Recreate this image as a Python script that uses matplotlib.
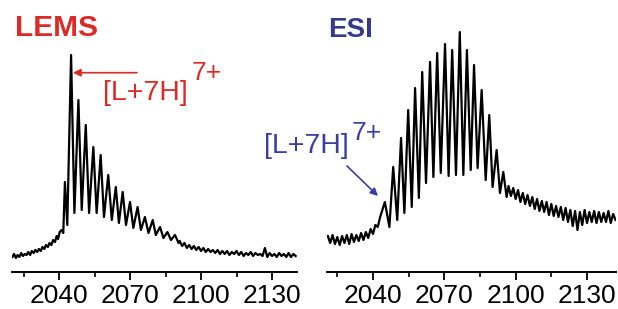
import numpy as np
import matplotlib
matplotlib.use("Agg")
import matplotlib.pyplot as plt

plt.rcParams['font.family'] = ['Liberation Sans', 'DejaVu Sans']

# ---- data (m/z, intensity in arbitrary units) ----
# LEMS: rising baseline, isotope-like peak train, decaying noisy tail
lems_base_mz = [2020.3, 2021.0, 2021.8, 2022.5, 2023.3, 2024.0, 2024.8, 2025.5, 2026.3, 2027.0,
                2027.8, 2028.5, 2029.3, 2030.0, 2030.8, 2031.5, 2032.3, 2033.0, 2033.8, 2034.5,
                2035.3, 2036.0, 2036.8, 2037.5, 2038.3, 2039.0, 2039.6, 2040.3, 2041.1, 2041.8]
lems_base_int = [15, 18, 14, 17, 15, 19, 16, 18, 17, 20,
                 17, 21, 19, 22, 20, 23, 21, 25, 23, 27,
                 25, 29, 27, 32, 30, 36, 33, 40, 42, 39]
lems_peak_mz = [2042.5, 2043.5, 2045.1, 2046.5, 2048.2, 2049.6, 2051.3, 2052.7, 2054.5, 2055.9,
                2057.6, 2059.0, 2060.8, 2062.3, 2064.0, 2065.3, 2066.9, 2068.3, 2070.0, 2071.4,
                2073.2, 2074.6, 2076.3, 2077.8, 2079.6, 2080.9, 2082.7, 2084.1, 2085.8, 2087.3,
                2089.0, 2090.5]
lems_peak_int = [90, 47, 217, 59, 172, 62, 147, 59, 125, 59,
                 117, 55, 97, 52, 85, 49, 80, 47, 70, 44,
                 65, 42, 55, 39, 52, 37, 45, 34, 40, 32,
                 37, 29]
lems_tail_mz = [2091, 2092, 2093, 2094, 2095, 2096, 2097, 2098, 2099, 2100,
                2101, 2102, 2103, 2104, 2105, 2106, 2107, 2108, 2109, 2110,
                2111, 2112, 2113, 2114, 2115, 2116, 2117, 2118, 2119, 2120,
                2121, 2122, 2123, 2124, 2125, 2126, 2127, 2128, 2129, 2130,
                2131, 2132, 2133, 2134, 2135, 2136, 2137, 2138, 2139, 2140]
lems_tail_int = [31, 26, 29, 24, 27, 23, 26, 22, 25, 21,
                 24, 20, 23, 20, 22, 19, 22, 18, 21, 18,
                 21, 17, 20, 18, 21, 17, 20, 16, 19, 17,
                 20, 16, 19, 17, 18, 16, 24, 15, 19, 16,
                 18, 15, 19, 16, 18, 15, 19, 15, 18, 16]

# ESI: broad envelope of peaks
esi_base_mz = [2021, 2022, 2023, 2024, 2025, 2026, 2027, 2028, 2029, 2030,
               2031, 2032, 2033, 2034, 2035, 2036, 2037, 2038, 2039, 2040,
               2041, 2042, 2043]
esi_base_int = [36, 29, 37, 28, 35, 27, 36, 29, 37, 28,
                38, 30, 37, 31, 39, 32, 40, 34, 43, 38,
                47, 45, 55]
esi_peak_mz = [2045.0, 2046.9, 2048.5, 2050.2, 2051.8, 2053.2, 2054.8, 2056.3, 2057.7, 2059.3,
               2060.7, 2062.3, 2064.0, 2065.4, 2067.0, 2068.5, 2070.3, 2071.8, 2073.3, 2074.9,
               2076.5, 2078.0, 2079.5, 2081.1, 2082.5, 2084.0, 2085.7, 2087.4, 2088.9, 2090.3,
               2092.0, 2093.4, 2094.8, 2096.2]
esi_peak_int = [70, 45, 105, 52, 134, 59, 162, 65, 184, 74,
                200, 89, 210, 95, 219, 99, 228, 96, 222, 97,
                240, 97, 222, 102, 207, 104, 182, 92, 157, 85,
                122, 79, 100, 75]
esi_tail_mz = [2097, 2098, 2099, 2100, 2101, 2102, 2103, 2104, 2105, 2106,
               2107, 2108, 2109, 2110, 2111, 2112, 2113, 2114, 2115, 2116,
               2117, 2118, 2119, 2120, 2121, 2122, 2123, 2124, 2125, 2126,
               2127, 2128, 2129, 2130, 2131, 2132, 2133, 2134, 2135, 2136,
               2137, 2138, 2139, 2140, 2141, 2142]
esi_tail_int = [86, 76, 84, 73, 82, 70, 79, 68, 77, 66,
                75, 63, 73, 61, 71, 60, 70, 57, 68, 56,
                66, 55, 65, 52, 64, 50, 62, 46, 61, 42,
                60, 47, 62, 49, 60, 50, 61, 49, 60, 50,
                59, 50, 61, 49, 58, 52]

tick_vals = [2040, 2070, 2100, 2130]
minor_vals = [2025, 2055, 2085, 2115]

RED = "#dc2b27"
BLUE = "#353a8e"
BLUE_TXT = "#3d3d9e"

W, H = 618, 309
fig = plt.figure(figsize=(W / 100, H / 100), dpi=100)

def make_ax(x0, x1, xlim):
    ax = fig.add_axes([x0 / W, (H - 272) / H, (x1 - x0) / W, 272 / H])
    ax.set_xlim(*xlim)
    ax.set_ylim(0, 272)
    for s in ["top", "right", "left"]:
        ax.spines[s].set_visible(False)
    ax.spines["bottom"].set_linewidth(1.4)
    ax.set_yticks([])
    ax.set_xticks(tick_vals)
    ax.set_xticks(minor_vals, minor=True)
    ax.tick_params(axis="x", which="major", direction="out", length=5.5, width=1.3,
                   pad=3, labelsize=19)
    ax.tick_params(axis="x", which="minor", direction="out", length=3.5, width=1.2)
    ax.patch.set_visible(False)
    return ax

ax1 = make_ax(12, 297, (2020.14, 2140.55))
ax2 = make_ax(327, 616, (2020.66, 2142.2))

lems_mz = lems_base_mz + lems_peak_mz + lems_tail_mz
lems_int = lems_base_int + lems_peak_int + lems_tail_int
esi_mz = esi_base_mz + esi_peak_mz + esi_tail_mz
esi_int = esi_base_int + esi_peak_int + esi_tail_int

ax1.plot(lems_mz, lems_int, color="black", lw=1.6)
ax2.plot(esi_mz, esi_int, color="black", lw=1.6)

# titles
fig.text(15 / W, 1 - 36 / H, "LEMS", color=RED, fontsize=21.5, fontweight="bold", va="baseline")
fig.text(328 / W, 1 - 37 / H, "ESI", color=BLUE, fontsize=20, fontweight="bold", va="baseline")

# LEMS label
fig.text(103 / W, 1 - 100 / H, "[L+7H]", color=RED, fontsize=20.5, va="baseline")
fig.text(192 / W, 1 - 80 / H, "7+", color=RED, fontsize=19, va="baseline")
fig.add_artist(plt.Annotation("", xy=(73, H - 72.7), xytext=(137, H - 72.7),
                              xycoords="figure pixels", textcoords="figure pixels",
                              arrowprops=dict(arrowstyle="-|>", color=RED, lw=1.2,
                                              mutation_scale=11, shrinkA=0, shrinkB=0)))

# ESI label
fig.text(264 / W, 1 - 153 / H, "[L+7H]", color=BLUE_TXT, fontsize=20.5, va="baseline")
fig.text(352 / W, 1 - 140 / H, "7+", color=BLUE_TXT, fontsize=19, va="baseline")
fig.add_artist(plt.Annotation("", xy=(378, H - 196), xytext=(347, H - 166),
                              xycoords="figure pixels", textcoords="figure pixels",
                              arrowprops=dict(arrowstyle="-|>", color=BLUE_TXT, lw=1.2,
                                              mutation_scale=11, shrinkA=0, shrinkB=0)))

fig.savefig("out.png", dpi=100)
